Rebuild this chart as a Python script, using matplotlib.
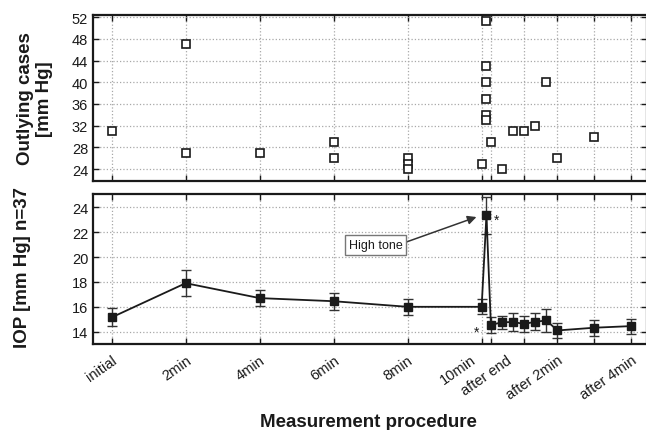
import matplotlib
matplotlib.use("Agg")
import matplotlib.pyplot as plt
from matplotlib.transforms import ScaledTranslation

plt.rcParams['font.family'] = ['Liberation Sans', 'DejaVu Sans']

# x positions of the measurements (minutes on the plot's own scale)
x_pos = [0, 2, 4, 6, 8, 10, 10.13, 10.25, 10.55, 10.85, 11.15, 11.45, 11.75, 12.05, 13.05, 14.05]
iop_mean = [15.15, 17.9, 16.7, 16.45, 16.0, 16.0, 23.35, 14.55, 14.75, 14.78, 14.62, 14.8, 14.9, 14.1, 14.32, 14.45]
iop_err = [0.72, 1.05, 0.67, 0.7, 0.65, 0.6, 1.5, 0.65, 0.55, 0.7, 0.68, 0.68, 0.9, 0.6, 0.63, 0.6]

# outlying cases
out_x = [0, 2, 2, 4, 6, 6, 8, 8, 8, 10, 10.13, 10.13, 10.13, 10.13, 10.13, 10.13,
         10.25, 10.55, 10.85, 11.15, 11.45, 11.75, 12.05, 13.05]
out_y = [31, 47, 27, 27, 29, 26, 26, 25, 24, 25, 51.4, 43, 40, 37, 34, 33,
         29, 24, 31, 31, 32, 40, 26, 30]

tick_x = [0, 2, 4, 6, 8, 10, 10.25, 11.15, 12.05, 13.05, 14.05]
tick_labels = ['initial', '2min', '4min', '6min', '8min', '10min', 'after end', '', 'after 2min', '', 'after 4min']

W, H = 646, 431
fig = plt.figure(figsize=(W / 100, H / 100), dpi=100)

left, right = 93 / W, 647 / W
ax1 = fig.add_axes([left, 1 - 182 / H, right - left, (182 - 16) / H])
ax2 = fig.add_axes([left, 1 - 345 / H, right - left, (345 - 195) / H])

xlim = (-0.505, 14.47)
dark = '#1a1a1a'

for ax in (ax1, ax2):
    ax.set_xlim(*xlim)
    ax.set_xticks(tick_x)
    ax.grid(True, linestyle=':', color='#a8a8a8', linewidth=0.9)
    ax.set_axisbelow(True)
    ax.tick_params(direction='in', top=True, right=True, length=4, width=1,
                   labelsize=10.5, color=dark, labelcolor=dark)
    for s in ax.spines.values():
        s.set_linewidth(1.6)
        s.set_color(dark)

# top panel
ax1.plot(out_x, out_y, linestyle='none', marker='s', markersize=6.2,
         markerfacecolor='white', markeredgecolor=dark, markeredgewidth=1.2)
ax1.set_ylim(21.79, 52.42)
ax1.set_yticks([24, 28, 32, 36, 40, 44, 48, 52])
ax1.tick_params(labelbottom=False)

# bottom panel
ax2.errorbar(x_pos, iop_mean, yerr=iop_err, color=dark, linewidth=1.3,
             marker='s', markersize=5.5, markerfacecolor=dark, markeredgecolor=dark,
             ecolor='#333333', elinewidth=1.0, capsize=3.6, capthick=1.0)
ax2.set_ylim(13.01, 25.07)
ax2.set_yticks([14, 16, 18, 20, 22, 24])
ax2.set_xticklabels(tick_labels, rotation=35, ha='right', rotation_mode='anchor')
ax2.tick_params(axis='x', pad=6)

# nudge the two crowded labels apart
shifts = {'10min': -8, 'after end': 11}
for lab in ax2.get_xticklabels():
    dx = shifts.get(lab.get_text(), 0)
    if dx:
        lab.set_transform(lab.get_transform() + ScaledTranslation(dx / 72, 0, fig.dpi_scale_trans))

ax2.annotate('High tone', xy=(9.86, 23.22), xytext=(7.13, 20.97),
             fontsize=9, ha='center', va='center', color=dark,
             bbox=dict(boxstyle='square,pad=0.3', fc='white', ec='#777777', lw=1),
             arrowprops=dict(arrowstyle='-|>', color='#333333', lw=1.1,
                             mutation_scale=13, relpos=(1.0, 0.63), shrinkA=0, shrinkB=0))
ax2.annotate('*', xy=(x_pos[6], iop_mean[6]), xytext=(5, -6), textcoords='offset points',
             fontsize=10, color=dark)
ax2.annotate('*', xy=(x_pos[7], iop_mean[7]), xytext=(-12, -8), textcoords='offset points',
             fontsize=10, color=dark)

fig.text(35 / W, 1 - 99 / H, 'Outlying cases\n[mm Hg]', rotation=90, ha='center', va='center',
         fontsize=13.5, fontweight='bold', color=dark, linespacing=1.15)
fig.text(23 / W, 1 - 268 / H, 'IOP [mm Hg] n=37', rotation=90, ha='center', va='center',
         fontsize=13.5, fontweight='bold', color=dark)
fig.text(368 / W, 1 - 427 / H, 'Measurement procedure', ha='center', va='baseline',
         fontsize=13.5, fontweight='bold', color=dark)

fig.savefig('out.png', dpi=100)
